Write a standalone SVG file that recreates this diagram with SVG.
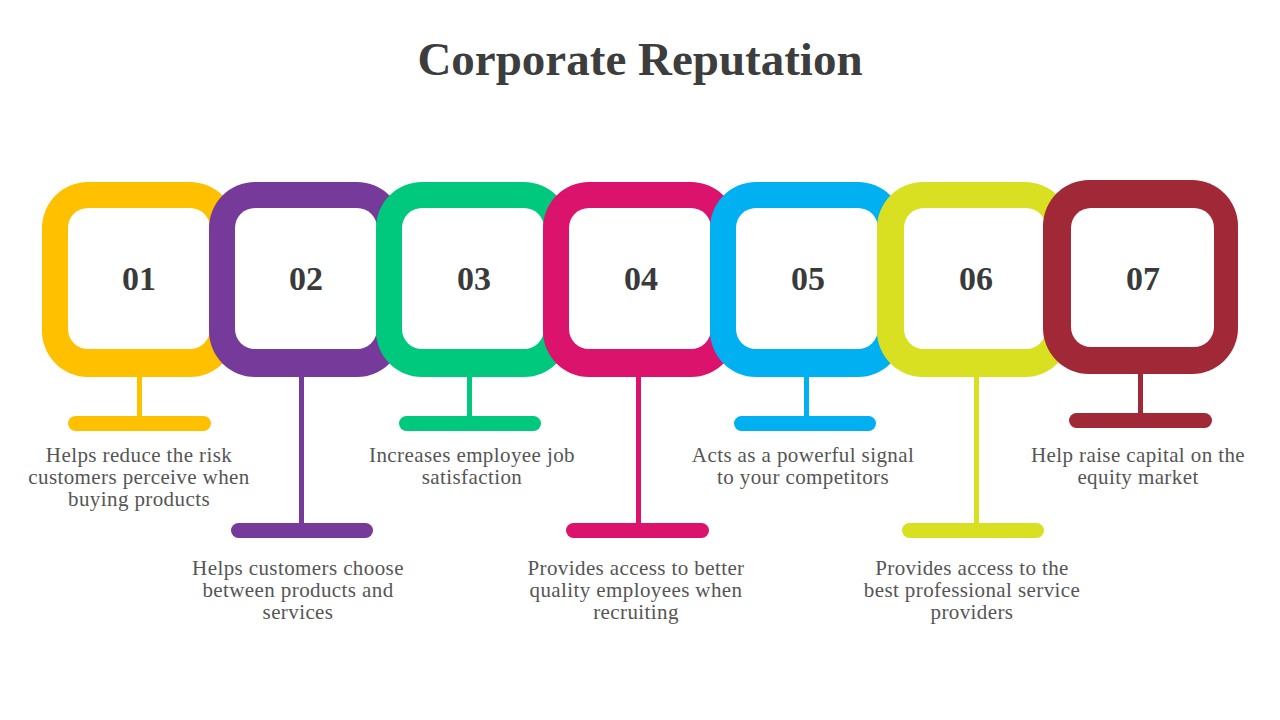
<svg xmlns="http://www.w3.org/2000/svg" width="1280" height="720" viewBox="0 0 1280 720">
<style>
.title{font-family:"Liberation Serif",serif;font-weight:bold;font-size:47px;fill:#3d3d3d;text-anchor:middle}
.num{font-family:"Liberation Serif",serif;font-weight:bold;font-size:34px;fill:#3a3a3a;text-anchor:middle}
.desc{font-family:"Liberation Serif",serif;font-size:21px;letter-spacing:0.4px;fill:#555555;text-anchor:middle}
.inner{fill:#ffffff}
</style>
<rect width="1280" height="720" fill="#ffffff"/>
<text class="title" x="640" y="75">Corporate Reputation</text>
<g id="connectors">
<rect x="137" y="370" width="5" height="50" fill="#FFC000"/>
<rect x="68" y="416" width="143" height="15" rx="7.5" fill="#FFC000"/>
<rect x="299" y="370" width="5" height="158" fill="#763A9A"/>
<rect x="231" y="523" width="142" height="15" rx="7.5" fill="#763A9A"/>
<rect x="467" y="370" width="5" height="50" fill="#00C87D"/>
<rect x="399" y="416" width="142" height="15" rx="7.5" fill="#00C87D"/>
<rect x="636" y="370" width="5" height="158" fill="#DC136C"/>
<rect x="566" y="523" width="143" height="15" rx="7.5" fill="#DC136C"/>
<rect x="804" y="370" width="5" height="50" fill="#00B0F0"/>
<rect x="734" y="416" width="142" height="15" rx="7.5" fill="#00B0F0"/>
<rect x="974" y="370" width="5" height="158" fill="#D8E021"/>
<rect x="902" y="523" width="142" height="15" rx="7.5" fill="#D8E021"/>
<rect x="1138" y="366" width="5" height="52" fill="#A02837"/>
<rect x="1069" y="413" width="143" height="15" rx="7.5" fill="#A02837"/>
</g>
<g id="node1">
<rect x="42" y="182" width="194" height="195" rx="46" fill="#FFC000"/>
<rect class="inner" x="68" y="208" width="142" height="141" rx="20"/>
<text class="num" x="139" y="290">01</text>
<text class="desc" x="139" y="462">Helps reduce the risk</text>
<text class="desc" x="139" y="484">customers perceive when</text>
<text class="desc" x="139" y="506">buying products</text>
</g>
<g id="node2">
<rect x="209" y="182" width="194" height="195" rx="46" fill="#763A9A"/>
<rect class="inner" x="235" y="208" width="142" height="141" rx="20"/>
<text class="num" x="306" y="290">02</text>
<text class="desc" x="298" y="575">Helps customers choose</text>
<text class="desc" x="298" y="597">between products and</text>
<text class="desc" x="298" y="619">services</text>
</g>
<g id="node3">
<rect x="376" y="182" width="194" height="195" rx="46" fill="#00C87D"/>
<rect class="inner" x="402" y="208" width="142" height="141" rx="20"/>
<text class="num" x="474" y="290">03</text>
<text class="desc" x="472" y="462">Increases employee job</text>
<text class="desc" x="472" y="484">satisfaction</text>
</g>
<g id="node4">
<rect x="543" y="182" width="194" height="195" rx="46" fill="#DC136C"/>
<rect class="inner" x="569" y="208" width="142" height="141" rx="20"/>
<text class="num" x="641" y="290">04</text>
<text class="desc" x="636" y="575">Provides access to better</text>
<text class="desc" x="636" y="597">quality employees when</text>
<text class="desc" x="636" y="619">recruiting</text>
</g>
<g id="node5">
<rect x="710" y="182" width="194" height="195" rx="46" fill="#00B0F0"/>
<rect class="inner" x="736" y="208" width="142" height="141" rx="20"/>
<text class="num" x="808" y="290">05</text>
<text class="desc" x="803" y="462">Acts as a powerful signal</text>
<text class="desc" x="803" y="484">to your competitors</text>
</g>
<g id="node6">
<rect x="877" y="182" width="194" height="195" rx="46" fill="#D8E021"/>
<rect class="inner" x="904" y="208" width="142" height="141" rx="20"/>
<text class="num" x="976" y="290">06</text>
<text class="desc" x="972" y="575">Provides access to the</text>
<text class="desc" x="972" y="597">best professional service</text>
<text class="desc" x="972" y="619">providers</text>
</g>
<g id="node7">
<rect x="1043" y="180" width="195" height="194" rx="46" fill="#A02837"/>
<rect class="inner" x="1071" y="208" width="143" height="139" rx="20"/>
<text class="num" x="1143" y="290">07</text>
<text class="desc" x="1138" y="462">Help raise capital on the</text>
<text class="desc" x="1138" y="484">equity market</text>
</g>
</svg>
